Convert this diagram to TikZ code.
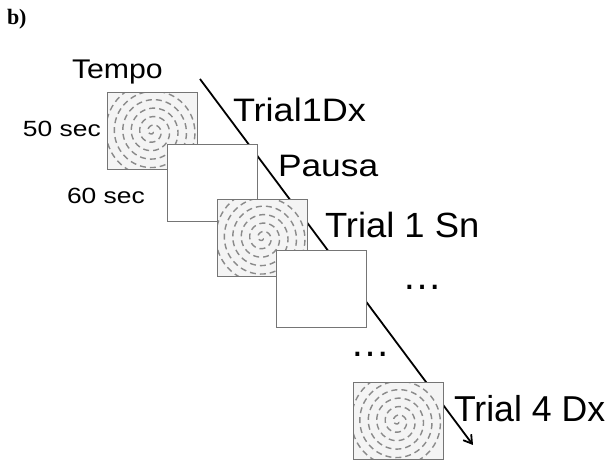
\documentclass[tikz,border=0pt]{standalone}
\usepackage{fontspec}
\usepackage{graphicx}
\setmainfont{Liberation Sans}
\newfontfamily\serifbold{Liberation Serif}
\usetikzlibrary{arrows.meta}

\definecolor{panel}{HTML}{F4F4F4}
\definecolor{edge}{HTML}{757575}
\definecolor{swirlgray}{HTML}{8A8A8A}

\tikzset{
  frame/.style={draw=edge, line width=1pt, minimum width=90pt, minimum height=77pt,
                inner sep=0pt, outer sep=0pt},
  blankbox/.style={frame, fill=white},
  swirlbox/.style={frame, fill=panel},
  swirlline/.style={draw=swirlgray, line width=1.4pt, dash pattern=on 6pt off 4pt},
  lab/.style={anchor=base west, inner sep=0pt, outer sep=0pt},
  timeline/.style={line width=1.8pt, -{Straight Barb[length=8pt,width=10pt]}}
}

% text of a given size, stretched horizontally
\newcommand{\lbl}[3]{\scalebox{#2}[1]{\fontsize{#1}{#1}\selectfont #3}}

% dashed spiral clipped to a box node, then the box edge on top
\newcommand{\swirlin}[1]{%
  \begin{scope}
    \clip (#1.south west) rectangle (#1.north east);
    \draw[swirlline, shift={(#1.center)}]
      plot[domain=0.6:36, samples=400, variable=\t]
      ({1.35*\t*cos(\t r)}, {1.35*\t*sin(\t r)});
  \end{scope}
  \draw[draw=edge, line width=1pt] (#1.south west) rectangle (#1.north east);
}

\begin{document}
\begin{tikzpicture}[x=1pt, y=-1pt]
  \useasboundingbox (0,0) rectangle (611,462);

  % time axis, running behind the stimulus frames
  \coordinate (tstart) at (200,79);
  \coordinate (tend) at (473,445);
  \draw[timeline] (tstart) -- (tend);

  % stimulus frames, each laid over the previous one
  \node[swirlbox] (s1) at (152.5,131.5) {};
  \swirlin{s1}
  \node[blankbox] (p1) at (212,183.5) {};
  \node[swirlbox] (s2) at (262.5,238) {};
  \swirlin{s2}
  \node[blankbox] (p2) at (321.5,289.5) {};
  \node[swirlbox] (s3) at (398,421.5) {};
  \swirlin{s3}

  % labels
  \node[lab] (panel) at (7,25) {\serifbold\bfseries\fontsize{22}{22}\selectfont b)};
  \node[lab] (tempo) at (72,79) {\lbl{27}{1.12}{Tempo}};
  \node[lab] (t50) at (23,136.5) {\lbl{22}{1.2}{50 sec}};
  \node[lab] (t60) at (67,204) {\lbl{22}{1.2}{60 sec}};
  \node[lab] (trial1dx) at (233,121.5) {\lbl{32.5}{1.11}{Trial1Dx}};
  \node[lab] (pausa) at (278,176.5) {\lbl{31}{1.14}{Pausa}};
  \node[lab] (trial1sn) at (325,238) {\lbl{35}{1.04}{Trial 1 Sn}};
  \node[lab] (dots1) at (402.5,290) {\lbl{40}{1}{…}};
  \node[lab] (dots2) at (350.5,357) {\lbl{40}{1}{…}};
  \node[lab] (trial4dx) at (454,421.5) {\lbl{36}{0.99}{Trial 4 Dx}};
\end{tikzpicture}
\end{document}
